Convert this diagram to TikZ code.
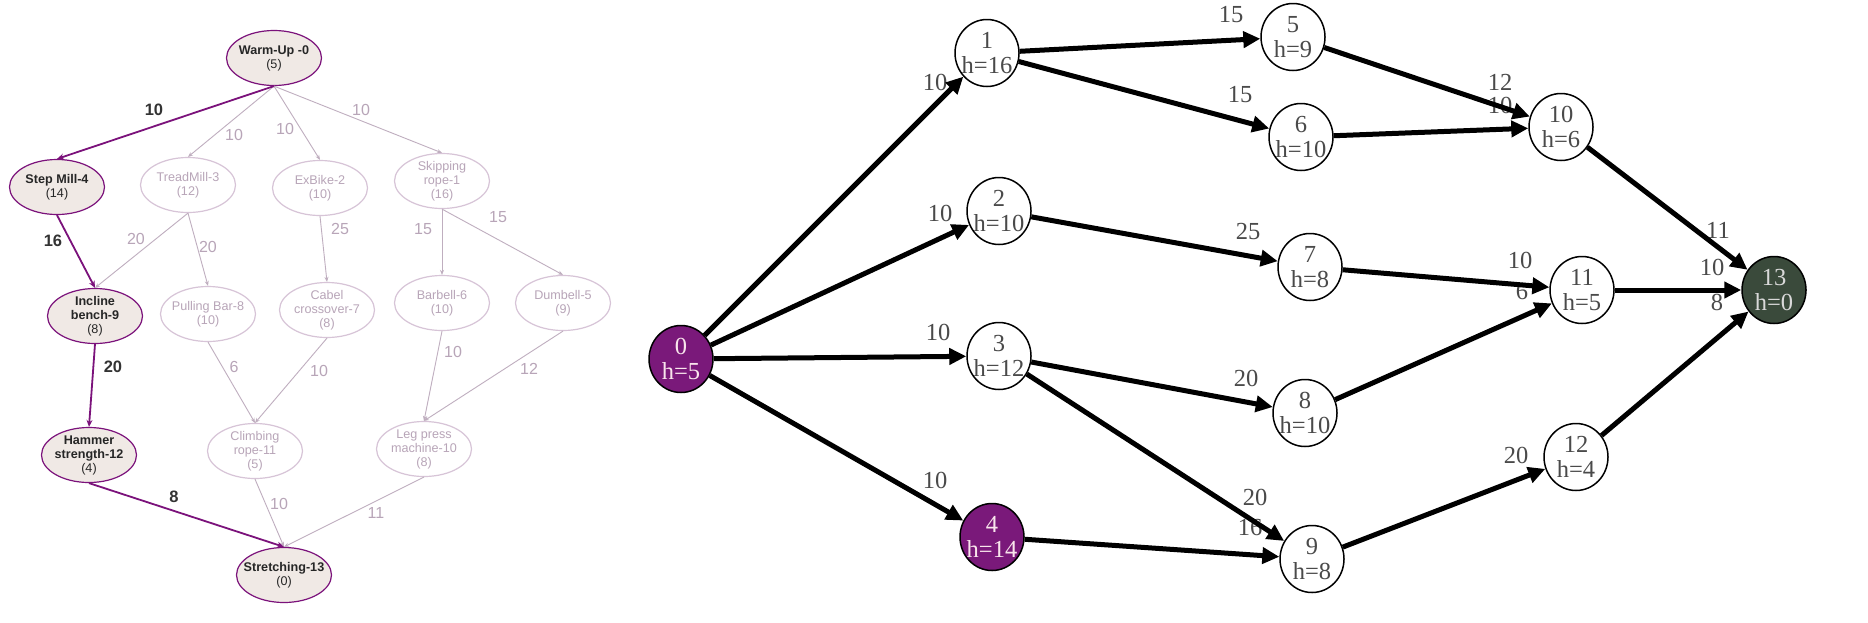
\documentclass[tikz,border=0pt]{standalone}
\usepackage{fontspec}
\setmainfont{Liberation Serif}
\newfontfamily\lsans{Liberation Sans}
\usetikzlibrary{shapes.geometric,arrows.meta}
\definecolor{hpurp}{HTML}{7B127B}
\definecolor{hfill}{HTML}{F0E9E5}
\definecolor{fborder}{HTML}{D7C4D7}
\definecolor{ftext}{HTML}{B8A5B8}
\definecolor{fedgec}{HTML}{BFAEBF}
\definecolor{rpurp}{HTML}{7A197A}
\definecolor{rdark}{HTML}{3A4A3B}
\definecolor{rtext}{HTML}{4A4A4A}
\begin{document}
\begin{tikzpicture}[x=1pt,y=-1pt,
 lnode/.style={ellipse, minimum width=95pt, minimum height=55pt, inner xsep=-20pt, inner ysep=-8pt, align=center, line width=1.2pt, font=\lsans\fontsize{12.6}{14}\selectfont},
 hnode/.style={lnode, draw=hpurp, fill=hfill, text=black!85},
 fnode/.style={lnode, draw=fborder, fill=white, text=ftext},
 hedge/.style={draw=hpurp, line width=1.8pt, -{Stealth[length=7pt,width=6pt]}},
 fedge/.style={draw=fedgec, line width=0.9pt, -{Stealth[length=5pt,width=4pt]}},
 hlab/.style={font=\lsans\bfseries\fontsize{16.5}{18}\selectfont, text=black!80},
 flab/.style={font=\lsans\fontsize{16}{18}\selectfont, text=ftext},
 rnode/.style={ellipse, minimum width=64pt, minimum height=67pt, inner sep=-6pt, draw=black, line width=1.5pt, align=center, font=\fontsize{24.5}{24.5}\selectfont},
 wnode/.style={rnode, fill=white, text=rtext},
 pnode/.style={rnode, fill=rpurp, text=white!90!purple},
 dnode/.style={rnode, fill=rdark, text=white!85!black},
 redge/.style={draw=black, line width=5pt, -{Triangle[length=17pt,width=16pt]}},
 rlab/.style={font=\fontsize{24.5}{24.5}\selectfont, text=rtext}]
\useasboundingbox[fill=white] (0,0) rectangle (1868,622);
% ---------- left graph ----------
\node[hnode] (L0) at (274,58) {\textbf{Warm-Up -0}\\(5)};
\node[hnode] (L4) at (57,187) {\textbf{Step Mill-4}\\(14)};
\node[fnode] (L3) at (188,185) {TreadMill-3\\(12)};
\node[fnode] (L2) at (320,188) {ExBike-2\\(10)};
\node[fnode] (L1) at (442,181) {Skipping\\rope-1\\(16)};
\node[hnode] (L9) at (95,316) {\textbf{Incline}\\\textbf{bench-9}\\(8)};
\node[fnode] (L8) at (208,314) {Pulling Bar-8\\(10)};
\node[fnode] (L7) at (327,310) {Cabel\\crossover-7\\(8)};
\node[fnode] (L6) at (442,303) {Barbell-6\\(10)};
\node[fnode] (L5) at (563,303) {Dumbell-5\\(9)};
\node[hnode] (L12) at (89,455) {\textbf{Hammer}\\\textbf{strength-12}\\(4)};
\node[fnode] (L11) at (255,451) {Climbing\\rope-11\\(5)};
\node[fnode] (L10) at (424,449) {Leg press\\machine-10\\(8)};
\node[hnode] (L13) at (284,575) {\textbf{Stretching-13}\\(0)};
% left labels
\node[hlab] (la04) at (154,110) {10};
\node[flab] (la03) at (234,135) {10};
\node[flab] (la02) at (285,129) {10};
\node[flab] (la01) at (361,110) {10};
\node[hlab] (la49) at (53,241) {16};
\node[flab] (la39) at (136,239) {20};
\node[flab] (la38) at (208,247) {20};
\node[flab] (la27) at (340,229) {25};
\node[flab] (la16) at (423,229) {15};
\node[flab] (la15) at (498,217) {15};
\node[hlab] (la912) at (113,367) {20};
\node[flab] (la811) at (234,367) {6};
\node[flab] (la711) at (319,371) {10};
\node[flab] (la610) at (453,352) {10};
\node[flab] (la510) at (529,369) {12};
\node[hlab] (la1213) at (174,497) {8};
\node[flab] (la1113) at (279,504) {10};
\node[flab] (la1013) at (376,513) {11};
% left edges
\draw[fedge] (L0.south) -- (L3.north);
\draw[fedge] (L0.south) -- (L2.north);
\draw[fedge] (L0.south) -- (L1.north);
\draw[fedge] (L3.south) -- (L9.north);
\draw[fedge] (L3.south) -- (L8.north);
\draw[fedge] (L2.south) -- (L7.north);
\draw[fedge] (L1.south) -- (L6.north);
\draw[fedge] (L1.south) -- (L5.north);
\draw[fedge] (L8.south) -- (L11.north);
\draw[fedge] (L7.south) -- (L11.north);
\draw[fedge] (L6.south) -- (L10.north);
\draw[fedge] (L5.south) -- (L10.north);
\draw[fedge] (L11.south) -- (L13.north);
\draw[fedge] (L10.south) -- (L13.north);
\draw[hedge] (L0.south) -- (L4.north);
\draw[hedge] (L4.south) -- (L9.north);
\draw[hedge] (L9.south) -- (L12.north);
\draw[hedge] (L12.south) -- (L13.north);
% ---------- right graph ----------
\node[pnode] (R0) at (681,359) {0\\h=5};
\node[wnode] (R1) at (987,53) {1\\h=16};
\node[wnode] (R2) at (999,211) {2\\h=10};
\node[wnode] (R3) at (999,356) {3\\h=12};
\node[pnode] (R4) at (992,537) {4\\h=14};
\node[wnode] (R5) at (1293,37) {5\\h=9};
\node[wnode] (R6) at (1301,137) {6\\h=10};
\node[wnode] (R7) at (1310,267) {7\\h=8};
\node[wnode] (R8) at (1305,413) {8\\h=10};
\node[wnode] (R9) at (1312,559) {9\\h=8};
\node[wnode] (R10) at (1561,127) {10\\h=6};
\node[wnode] (R11) at (1582,290) {11\\h=5};
\node[wnode] (R12) at (1576,457) {12\\h=4};
\node[dnode] (R13) at (1774,290) {13\\h=0};
% right labels
\node[rlab] (ra01) at (935,82) {10};
\node[rlab] (ra02) at (940,213) {10};
\node[rlab] (ra03) at (938,332) {10};
\node[rlab] (ra04) at (935,480) {10};
\node[rlab] (ra15) at (1231,15) {15};
\node[rlab] (ra16) at (1240,95) {15};
\node[rlab] (ra27) at (1248,232) {25};
\node[rlab] (ra38) at (1246,378) {20};
\node[rlab] (ra39) at (1255,497) {20};
\node[rlab] (ra49) at (1250,527) {16};
\node[rlab] (ra610) at (1500,105) {10};
\node[rlab] (ra510) at (1500,82) {12};
\node[rlab] (ra711) at (1520,260) {10};
\node[rlab] (ra811) at (1522,292) {6};
\node[rlab] (ra912) at (1516,455) {20};
\node[rlab] (ra1013) at (1718,230) {11};
\node[rlab] (ra1113) at (1712,267) {10};
\node[rlab] (ra1213) at (1717,302) {8};
% right edges
\draw[redge] (R0) -- (R1);
\draw[redge] (R0) -- (R2);
\draw[redge] (R0) -- (R3);
\draw[redge] (R0) -- (R4);
\draw[redge] (R1) -- (R5);
\draw[redge] (R1) -- (R6);
\draw[redge] (R2) -- (R7);
\draw[redge] (R3) -- (R8);
\draw[redge] (R3) -- (R9);
\draw[redge] (R4) -- (R9);
\draw[redge] (R5) -- (R10);
\draw[redge] (R6) -- (R10);
\draw[redge] (R7) -- (R11);
\draw[redge] (R8) -- (R11);
\draw[redge] (R9) -- (R12);
\draw[redge] (R10) -- (R13);
\draw[redge] (R11) -- (R13);
\draw[redge] (R12) -- (R13);
\end{tikzpicture}
\end{document}
